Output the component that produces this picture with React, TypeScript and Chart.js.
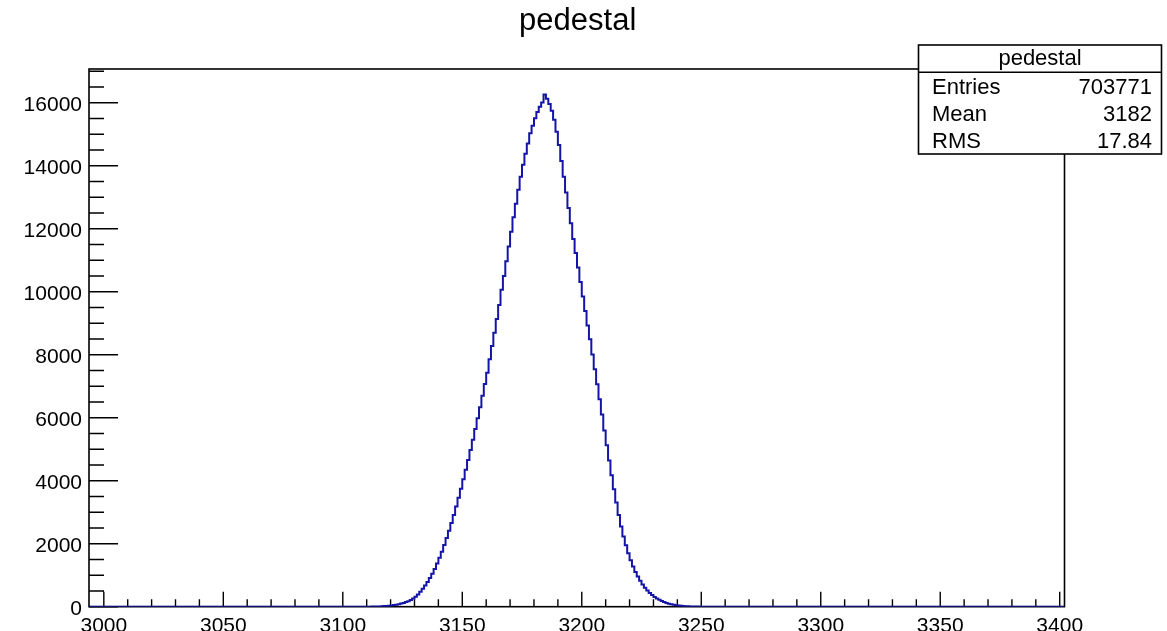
import { useEffect, useRef } from 'react';
import { Chart, registerables } from 'chart.js';

Chart.register(...registerables);

// Canvas size
const WIDTH = 1167;
const HEIGHT = 631;

// Histogram "pedestal": 1-ADC-count bins, first bin lower edge below
const firstBinEdge = 3109;
const binCounts = [
  1, 1, 2, 4, 5, 7, 10, 14, 19, 25, 32, 41, // 3109-3120
  52, 65, 80, 99, 120, 146, 176, 211, 258, 318, // 3121-3130
  390, 472, 566, 670, 785, 910, 1045, 1198, 1368, 1552, // 3131-3140
  1748, 1958, 2178, 2412, 2656, 2914, 3182, 3462, 3748, 4044, // 3141-3150
  4346, 4658, 4976, 5304, 5638, 5982, 6334, 6696, 7068, 7430, // 3151-3160
  7858, 8273, 8698, 9133, 9578, 10060, 10496, 10963, 11433, 11900, // 3161-3170
  12360, 12790, 13238, 13646, 14028, 14383, 14708, 15030, 15268, 15503, // 3171-3180
  15706, 15873, 16003, 16260, 16125, 15960, 15745, 15455, 15080, 14660, // 3181-3190
  14150, 13650, 13150, 12655, 12170, 11670, 11228, 10765, 10305, 9845, // 3191-3200
  9385, 8925, 8490, 8003, 7535, 7063, 6585, 6103, 5590, 5125, // 3201-3210
  4640, 4170, 3725, 3305, 2910, 2550, 2230, 1948, 1698, 1475, // 3211-3220
  1278, 1105, 955, 823, 705, 603, 514, 436, 369, 311, // 3221-3230
  261, 217, 179, 146, 119, 96, 77, 61, 48, 38, // 3231-3240
  30, 23, 18, 13, 10, 7, 5, 4, 2, 2, 1, 1, // 3241-3252
];

// Axis ranges and tick labels
const xRange = [2993.8, 3402.0];
const yMax = 17070;
const xTickLabels = ['3000', '3050', '3100', '3150', '3200', '3250', '3300', '3350', '3400'];
const yTickLabels = ['0', '2000', '4000', '6000', '8000', '10000', '12000', '14000', '16000'];
const xMinorStep = 10;
const yMinorStep = 500;

// Title and statistics box
const histTitle = 'pedestal';
const statsLabels = ['Entries', 'Mean', 'RMS'];
const statsValues = ['703771', '3182', '17.84'];

const FONT = '"Liberation Sans", Arial, Helvetica, sans-serif';
const LINE_COLOR = '#1414a6';

// Frame, inward ticks and axis labels in the ROOT style
const framePlugin = {
  id: 'rootFrame',
  beforeDatasetsDraw(chart: any) {
    const { ctx, chartArea: a, scales } = chart;
    const xs = scales.x;
    const ys = scales.y;
    ctx.save();
    ctx.strokeStyle = '#000';
    ctx.lineWidth = 1.6;
    ctx.strokeRect(a.left, a.top, a.right - a.left, a.bottom - a.top);

    ctx.lineWidth = 1.4;
    ctx.beginPath();
    const xFirst = Number(xTickLabels[0]);
    const xLast = Number(xTickLabels[xTickLabels.length - 1]);
    const xMajor = Number(xTickLabels[1]) - xFirst;
    for (let v = xFirst; v <= xLast + 1e-6; v += xMinorStep) {
      const px = xs.getPixelForValue(v);
      const isMajor = Math.abs((v - xFirst) % xMajor) < 1e-6;
      const len = isMajor ? 15 : 7.5;
      ctx.moveTo(px, a.bottom);
      ctx.lineTo(px, a.bottom - len);
    }
    const yMajor = Number(yTickLabels[1]) - Number(yTickLabels[0]);
    for (let v = 0; v <= yMax; v += yMinorStep) {
      const py = ys.getPixelForValue(v);
      const isMajor = v % yMajor === 0;
      const len = isMajor ? 29 : 15;
      ctx.moveTo(a.left, py);
      ctx.lineTo(a.left + len, py);
    }
    ctx.stroke();

    ctx.fillStyle = '#000';
    ctx.font = `21px ${FONT}`;
    ctx.textBaseline = 'alphabetic';
    ctx.textAlign = 'center';
    xTickLabels.forEach((t) => {
      const px = xs.getPixelForValue(Number(t));
      ctx.fillText(t, px, a.bottom + 25);
    });
    ctx.textAlign = 'right';
    yTickLabels.forEach((t) => {
      const py = ys.getPixelForValue(Number(t));
      ctx.fillText(t, a.left - 7, py + 8);
    });
    ctx.restore();
  },
  afterDraw(chart: any) {
    const { ctx } = chart;
    ctx.save();
    // Title
    ctx.fillStyle = '#000';
    ctx.font = `31px ${FONT}`;
    ctx.textAlign = 'center';
    ctx.textBaseline = 'alphabetic';
    ctx.fillText(histTitle, 577.7, 29.5);

    // Statistics box
    const bx = 918.5, by = 45, bw = 243, bh = 109, hdr = 27.3;
    ctx.fillStyle = '#fff';
    ctx.fillRect(bx, by, bw, bh);
    ctx.strokeStyle = '#000';
    ctx.lineWidth = 1.6;
    ctx.strokeRect(bx, by, bw, bh);
    ctx.beginPath();
    ctx.moveTo(bx, by + hdr);
    ctx.lineTo(bx + bw, by + hdr);
    ctx.stroke();

    ctx.fillStyle = '#000';
    ctx.font = `22px ${FONT}`;
    ctx.textAlign = 'center';
    ctx.fillText(histTitle, bx + bw / 2, by + 20);
    const rowH = (bh - hdr) / statsLabels.length;
    statsLabels.forEach((label, i) => {
      const base = by + hdr + rowH * i + rowH / 2 + 8;
      ctx.textAlign = 'left';
      ctx.fillText(label, bx + 13.5, base);
      ctx.textAlign = 'right';
      ctx.fillText(statsValues[i], bx + bw - 9.5, base);
    });
    ctx.restore();
  },
};

export default function App() {
  const canvasRef = useRef<HTMLCanvasElement | null>(null);

  useEffect(() => {
    const canvas = canvasRef.current;
    if (!canvas) return;

    // Step outline: zero across the range, one point per bin lower edge
    const points = [
      { x: xRange[0], y: 0 },
      ...binCounts.map((c, i) => ({ x: firstBinEdge + i, y: c })),
      { x: firstBinEdge + binCounts.length, y: 0 },
      { x: xRange[1], y: 0 },
    ];

    const chart = new Chart(canvas, {
      type: 'line',
      data: {
        datasets: [
          {
            label: histTitle,
            data: points,
            borderColor: LINE_COLOR,
            borderWidth: 2,
            pointRadius: 0,
            stepped: true,
            fill: false,
            tension: 0,
          },
        ],
      },
      options: {
        responsive: false,
        animation: false,
        devicePixelRatio: 1,
        events: [],
        layout: { padding: { left: 89, top: 69, right: 102.5, bottom: 24.3 } },
        scales: {
          x: { type: 'linear', min: xRange[0], max: xRange[1], display: false },
          y: { type: 'linear', min: 0, max: yMax, display: false },
        },
        plugins: {
          legend: { display: false },
          title: { display: false },
          tooltip: { enabled: false },
        },
      },
      plugins: [framePlugin],
    });

    return () => chart.destroy();
  }, []);

  return (
    <div style={{ position: 'absolute', left: 0, top: 0, width: WIDTH, height: HEIGHT, background: '#fff' }}>
      <canvas ref={canvasRef} width={WIDTH} height={HEIGHT} style={{ display: 'block' }} />
    </div>
  );
}
